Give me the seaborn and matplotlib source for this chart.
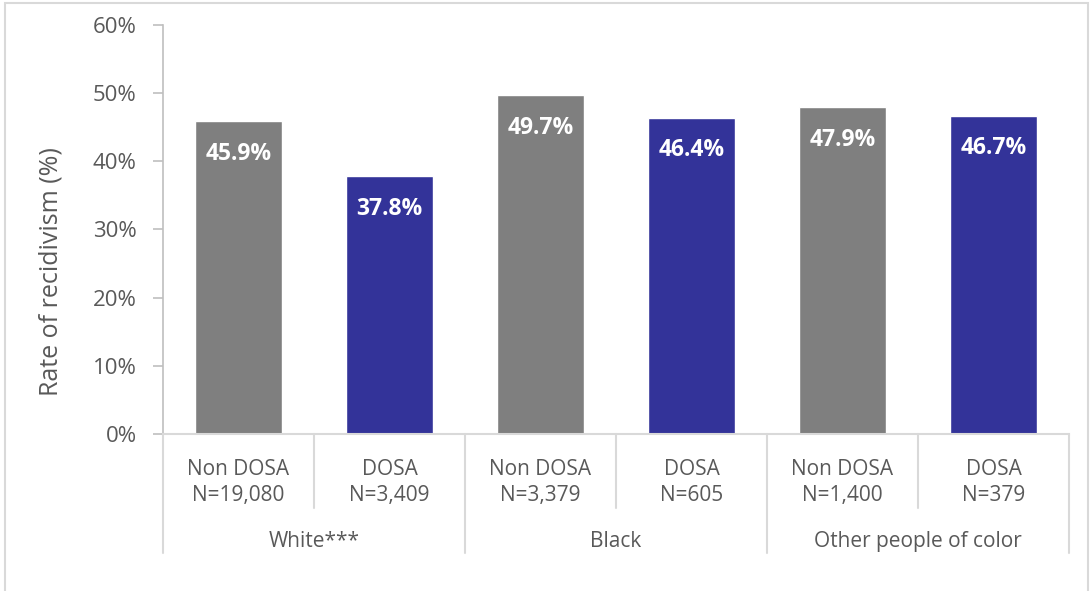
import numpy as np
import pandas as pd
import matplotlib
matplotlib.use("Agg")
import matplotlib.pyplot as plt
import matplotlib.transforms as mtransforms
from matplotlib.patches import Rectangle
import seaborn as sns

# -----------------------------------------------------
# DATA
# -----------------------------------------------------

groups = ["White***", "Black", "Other people of color"]
programs = ["Non DOSA", "DOSA", "Non DOSA", "DOSA", "Non DOSA", "DOSA"]
sample_sizes = ["19,080", "3,409", "3,379", "605", "1,400", "379"]
rates = [45.9, 37.8, 49.7, 46.4, 47.9, 46.7]
yticks = [0, 10, 20, 30, 40, 50, 60]

labels = [f"{p}\nN={n}" for p, n in zip(programs, sample_sizes)]
df = pd.DataFrame({"label": labels, "program": programs, "rate": rates})

palette = {"Non DOSA": "#7f7f7f", "DOSA": "#333399"}
text_color = "#595959"
line_color = "#d9d9d9"

# -----------------------------------------------------
# PLOT
# -----------------------------------------------------

sns.set_style("white")
plt.rcParams["font.family"] = ["Open Sans", "DejaVu Sans"]

fig = plt.figure(figsize=(10.92, 5.91), dpi=100)
ax = fig.add_axes([0.1493, 0.2657, 0.8297, 0.692])

sns.barplot(
    data=df, x="label", y="rate", hue="program", palette=palette,
    dodge=False, width=0.576, legend=False, saturation=1, ax=ax
)

ax.set_xlim(-0.5, len(labels) - 0.5)
ax.set_ylim(0, 60)
ax.set_yticks(yticks)
ax.set_yticklabels([f"{t}%" for t in yticks], fontsize=16, color=text_color)
ax.set_ylabel("Rate of recidivism (%)", fontsize=18, color=text_color)
ax.yaxis.set_label_coords(-0.11, 0.396)
ax.set_xlabel("")
ax.tick_params(axis="y", length=7, width=1.2, color="#bfbfbf", pad=12, left=True)
ax.tick_params(axis="x", length=0, pad=18)
ax.set_xticks(range(len(labels)))
ax.set_xticklabels(labels, fontsize=15, color=text_color, linespacing=1.3)

for side in ["top", "right"]:
    ax.spines[side].set_visible(False)
ax.spines["left"].set_color("#bfbfbf")
ax.spines["left"].set_linewidth(1.2)
ax.spines["bottom"].set_color(line_color)
ax.spines["bottom"].set_linewidth(1.5)

# value labels inside the bars
for cont in ax.containers:
    ax.bar_label(cont, fmt="%.1f%%", padding=-32, color="white",
                 fontsize=16.5, fontweight="bold")

# category separators below the axis
trans = mtransforms.blended_transform_factory(ax.transData, ax.transAxes)
for i in range(len(labels) + 1):
    x = i - 0.5
    bottom = -0.29 if i % 2 == 0 else -0.181
    ax.plot([x, x], [0, bottom], color=line_color, lw=1.5,
            transform=trans, clip_on=False)

# group labels
for g, name in enumerate(groups):
    ax.text(2 * g + 0.5, -0.262, name, transform=trans, ha="center",
            va="center", fontsize=15, color=text_color)

# outer chart border
fig.patches.append(Rectangle((0.0046, -0.01), 0.9918, 1.005,
                             transform=fig.transFigure, fill=False,
                             edgecolor=line_color, lw=1.5))

fig.savefig("out.png", dpi=100)
